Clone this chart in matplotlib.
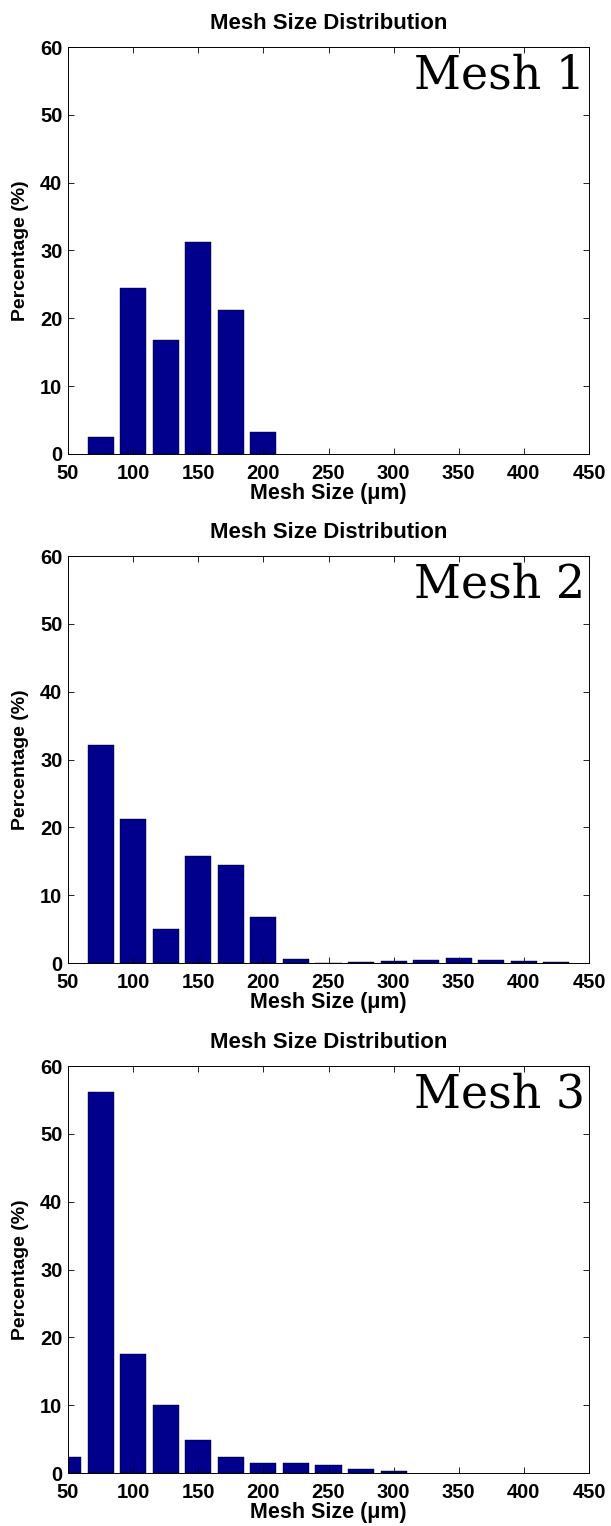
import numpy as np
import matplotlib.pyplot as plt

# bin centres (um) and percentages
mesh1_x = [75, 100, 125, 150, 175, 200]
mesh1_y = [2.5, 24.5, 16.8, 31.2, 21.3, 3.2]

mesh2_x = [75, 100, 125, 150, 175, 200, 225, 250, 275, 300, 325, 350, 375, 400, 425]
mesh2_y = [32.2, 21.3, 5.0, 15.8, 14.4, 6.8, 0.6, 0.0, 0.2, 0.25, 0.5, 0.75, 0.5, 0.35, 0.1]

mesh3_x = [50, 75, 100, 125, 150, 175, 200, 225, 250, 275, 300]
mesh3_y = [2.3, 56.2, 17.6, 10.0, 4.9, 2.4, 1.5, 1.5, 1.2, 0.65, 0.3]

labels = ['Mesh 1', 'Mesh 2', 'Mesh 3']
xticks = [50, 100, 150, 200, 250, 300, 350, 400, 450]
yticks = [0, 10, 20, 30, 40, 50, 60]

plt.rcParams['font.family'] = ['Liberation Sans', 'DejaVu Sans']

fig = plt.figure(figsize=(6.11, 15.26), dpi=100)

# axes boxes in figure fractions (left, bottom, width, height)
boxes = [
    [0.1113, 0.7025, 0.8527, 0.2667],
    [0.1113, 0.3689, 0.8527, 0.2667],
    [0.1113, 0.0347, 0.8527, 0.2667],
]

data = [(mesh1_x, mesh1_y), (mesh2_x, mesh2_y), (mesh3_x, mesh3_y)]

for box, (x, y), lab in zip(boxes, data, labels):
    ax = fig.add_axes(box)
    ax.bar(x, y, width=20, color='#00008c', edgecolor='black', linewidth=0.3)
    ax.set_xlim(50, 450)
    ax.set_ylim(0, 60)
    ax.set_xticks(xticks)
    ax.set_yticks(yticks)
    ax.tick_params(direction='in', top=True, right=True, length=4, width=0.6,
                   labelsize=14.5)
    ax.tick_params(axis='x', pad=7)
    ax.tick_params(axis='y', pad=4)
    for t in ax.get_xticklabels() + ax.get_yticklabels():
        t.set_fontweight('bold')
    for s in ax.spines.values():
        s.set_linewidth(0.7)
    ax.set_title('Mesh Size Distribution', fontsize=16, fontweight='bold', pad=13)
    ax.set_xlabel('Mesh Size (\u03bcm)', fontsize=15.5, fontweight='bold', labelpad=0)
    ax.set_ylabel('Percentage (%)', fontsize=14, fontweight='bold', labelpad=8)
    ax.text(0.992, 0.985, lab, transform=ax.transAxes, ha='right', va='top',
            fontsize=33, family='DejaVu Serif')

fig.savefig('out.png', dpi=100)
